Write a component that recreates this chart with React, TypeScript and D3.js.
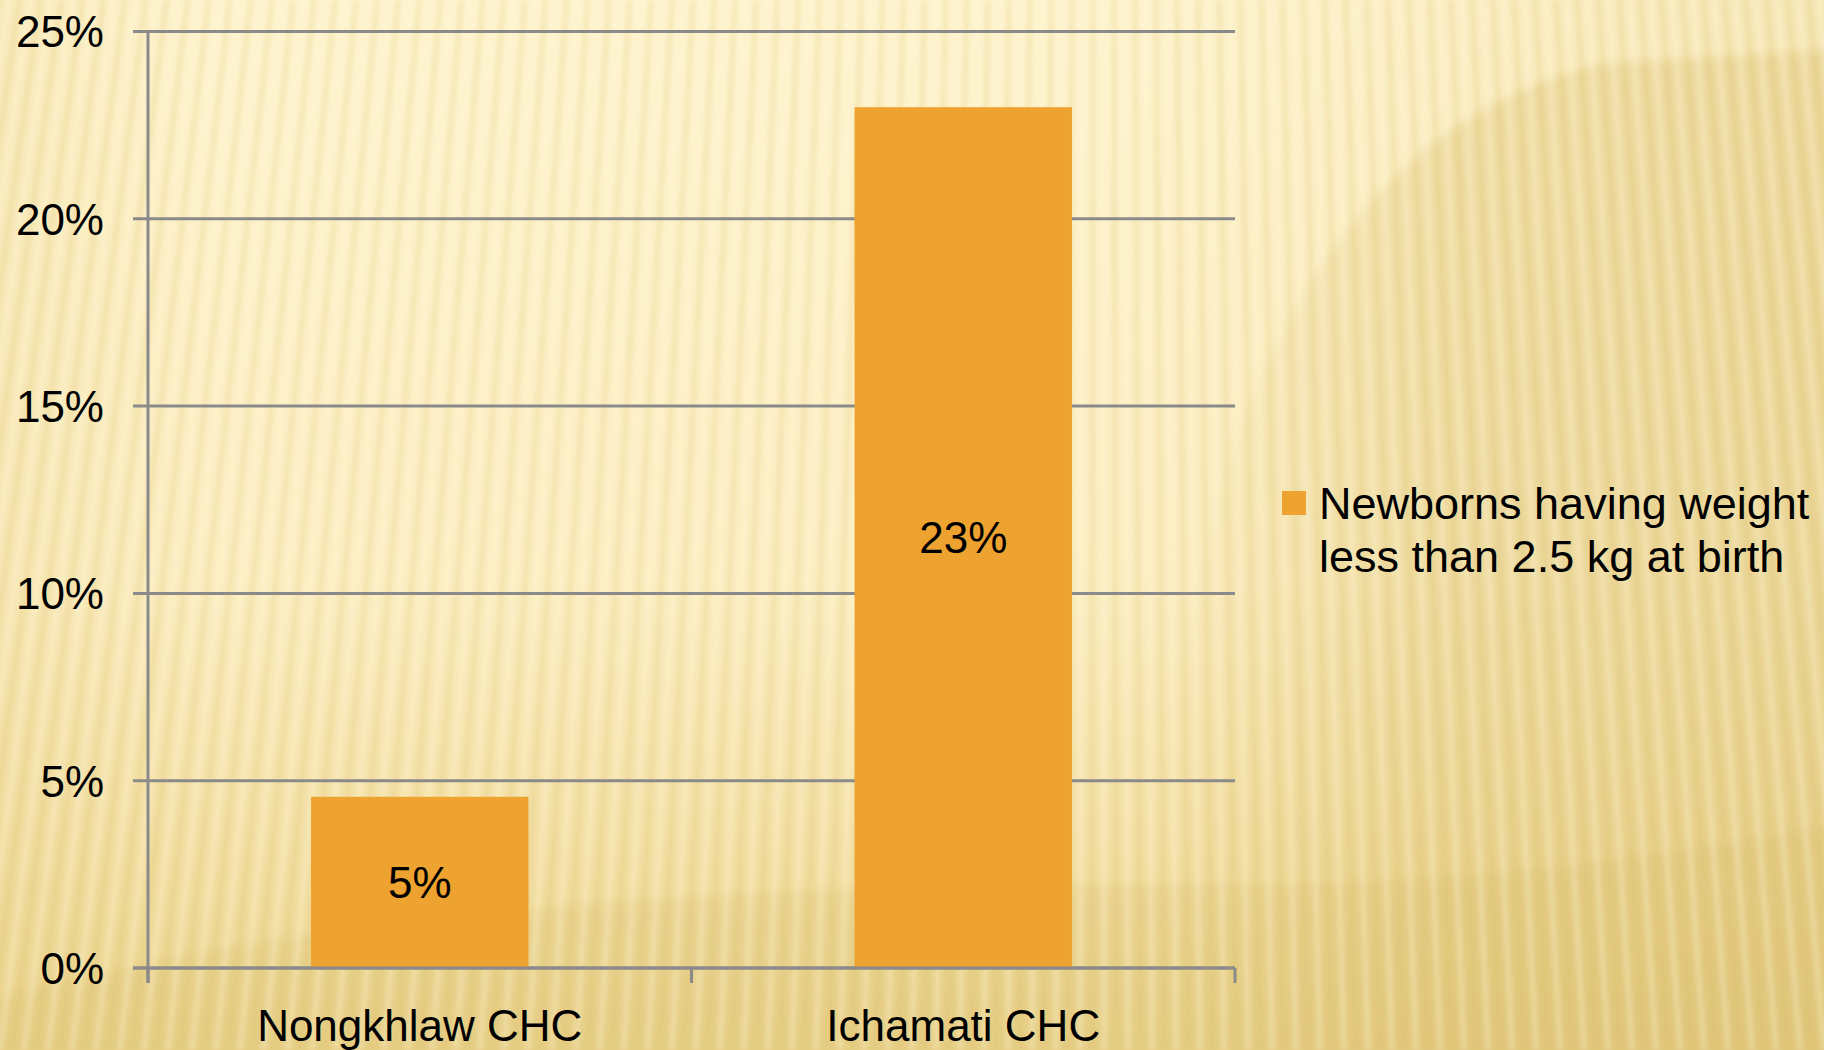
import React from "react";
import * as d3 from "d3";

const categories = ["Nongkhlaw CHC", "Ichamati CHC"];
const values = [0.0457, 0.2298];
const dataLabels = ["5%", "23%"];
const yTicks = [0, 0.05, 0.1, 0.15, 0.2, 0.25];
const legendLines = ["Newborns having weight", "less than 2.5 kg at birth"];

const W = 1824;
const H = 1050;
const FONT = "'Liberation Sans', Arial, sans-serif";

export default function App() {
  const x = d3.scaleBand<string>().domain(categories).range([148, 1235]).paddingInner(0.6).paddingOuter(0.3);
  const y = d3.scaleLinear().domain([0, 0.25]).range([968, 31.5]);
  const fmt = d3.format(".0%");
  const grid = "#8a8a8a";
  const barColor = "#EEA230";

  // background stripes fanning from a far focal point
  const fx = 1100, fy = -7500;
  const stripeXs = d3.range(-300, 2000, 24);
  const stripe = (xb: number) => {
    const xt = xb + (fx - xb) * (H / (H - fy));
    return `M${xb},${H}L${xt},0`;
  };
  const xTickPos = [148, (148 + 1235) / 2, 1235];

  return (
    <svg width={W} height={H} style={{ position: "absolute", left: 0, top: 0 }} xmlns="http://www.w3.org/2000/svg">
      <defs>
        <linearGradient id="bgv" x1="0" y1="0" x2="0" y2="1">
          <stop offset="0" stopColor="#FEF3CD" />
          <stop offset="0.55" stopColor="#FBEDC1" />
          <stop offset="0.82" stopColor="#F2DEA2" />
          <stop offset="1" stopColor="#EAD38D" />
        </linearGradient>
        <linearGradient id="bgh" x1="0" y1="0" x2="1" y2="0">
          <stop offset="0" stopColor="#E8CF86" stopOpacity="0.25" />
          <stop offset="0.12" stopColor="#E8CF86" stopOpacity="0" />
          <stop offset="0.6" stopColor="#E8CF86" stopOpacity="0" />
          <stop offset="1" stopColor="#E0C77C" stopOpacity="0.3" />
        </linearGradient>
        <linearGradient id="arcFill" x1="1150" y1="0" x2="1450" y2="0" gradientUnits="userSpaceOnUse">
          <stop offset="0" stopColor="#DDC172" stopOpacity="0" />
          <stop offset="1" stopColor="#DDC172" stopOpacity="0.38" />
        </linearGradient>
        <filter id="blur" x="-10%" y="-10%" width="120%" height="120%">
          <feGaussianBlur stdDeviation="2" />
        </filter>
        <filter id="blur2" x="-20%" y="-20%" width="140%" height="140%">
          <feGaussianBlur stdDeviation="5" />
        </filter>
      </defs>
      <rect x={0} y={0} width={W} height={H} fill="url(#bgv)" />
      <rect x={0} y={0} width={W} height={H} fill="url(#bgh)" />
      <path
        d="M1180,700 C1220,360 1360,120 1600,64 L1830,50 L1830,1060 L1180,1060 Z"
        fill="url(#arcFill)"
        filter="url(#blur2)"
      />
      <path
        d="M-10,1000 C350,900 800,880 1300,884 C1500,880 1700,850 1830,825 L1830,1060 L-10,1060 Z"
        fill="#D4B762"
        opacity={0.2}
        filter="url(#blur2)"
      />
      <g filter="url(#blur)">
        {stripeXs.map((xb, i) => (
          <path key={"d" + i} d={stripe(xb)} stroke="#D9B85E" strokeOpacity={0.2} strokeWidth={5} fill="none" />
        ))}
        {stripeXs.map((xb, i) => (
          <path key={"l" + i} d={stripe(xb + 12)} stroke="#FFF8DC" strokeOpacity={0.3} strokeWidth={6} fill="none" />
        ))}
      </g>

      {/* gridlines + y ticks */}
      {yTicks.map((t) => (
        <line key={"g" + t} x1={133} x2={1235} y1={y(t)} y2={y(t)} stroke={grid} strokeWidth={3} />
      ))}
      {/* y axis */}
      <line x1={148} x2={148} y1={y(0.25)} y2={983} stroke={grid} strokeWidth={3} />
      {/* x ticks */}
      {xTickPos.map((p, i) => (
        <line key={"xt" + i} x1={p} x2={p} y1={y(0)} y2={983} stroke={grid} strokeWidth={3} />
      ))}

      {/* bars */}
      {categories.map((c, i) => (
        <rect key={c} x={x(c)} y={y(values[i])} width={x.bandwidth()} height={y(0) - y(values[i])} fill={barColor} />
      ))}
      <line x1={133} x2={1235} y1={y(0)} y2={y(0)} stroke={grid} strokeWidth={3} />

      {/* data labels */}
      {categories.map((c, i) => (
        <text
          key={"dl" + c}
          x={(x(c) as number) + x.bandwidth() / 2}
          y={(y(values[i]) + y(0)) / 2}
          dy="0.36em"
          textAnchor="middle"
          fontFamily={FONT}
          fontSize={44}
          fill="#000"
        >
          {dataLabels[i]}
        </text>
      ))}

      {/* y tick labels */}
      {yTicks.map((t) => (
        <text key={"yl" + t} x={104} y={y(t)} dy="0.36em" textAnchor="end" fontFamily={FONT} fontSize={44} fill="#000">
          {fmt(t)}
        </text>
      ))}

      {/* category labels */}
      {categories.map((c) => (
        <text key={"cl" + c} x={(x(c) as number) + x.bandwidth() / 2} y={1041} textAnchor="middle" fontFamily={FONT} fontSize={44} fill="#000">
          {c}
        </text>
      ))}

      {/* legend */}
      <rect x={1282} y={491} width={24} height={24} fill={barColor} />
      {legendLines.map((l, i) => (
        <text key={"lg" + i} x={1319} y={519 + i * 53} fontFamily={FONT} fontSize={45} fill="#000">
          {l}
        </text>
      ))}
    </svg>
  );
}
